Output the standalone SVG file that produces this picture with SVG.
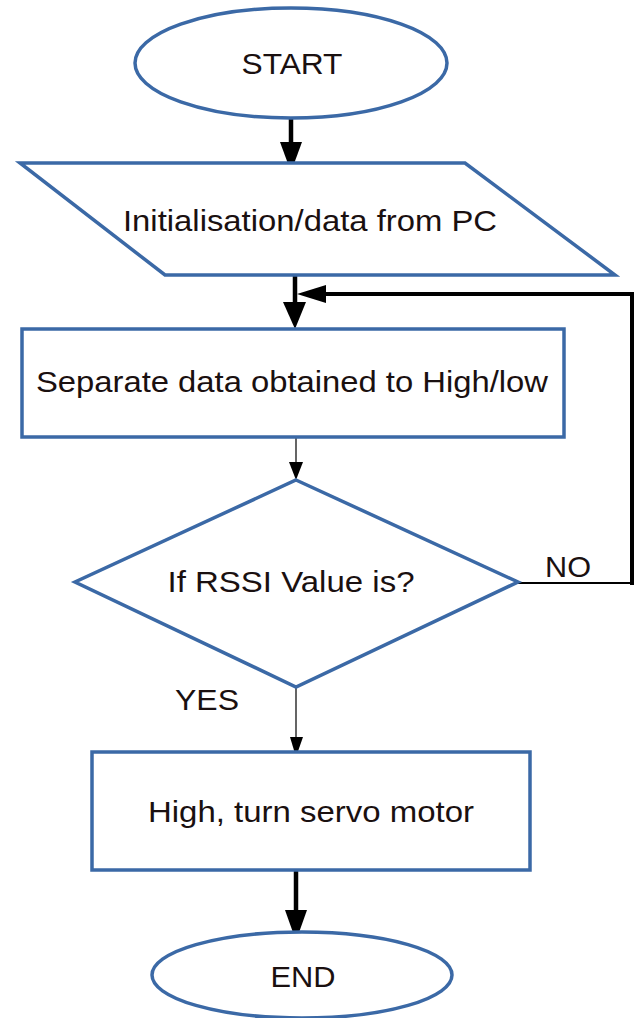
<svg xmlns="http://www.w3.org/2000/svg" width="640" height="1018" viewBox="0 0 640 1018">
<style>
.shape{fill:#fff;stroke:#3b69a6;stroke-width:3.5}
.t{font-family:"Liberation Sans",Arial,sans-serif;font-size:30px;fill:#1a1010;text-anchor:middle}
.l{font-family:"Liberation Sans",Arial,sans-serif;font-size:29px;fill:#1a1010}
.thick{stroke:#000;stroke-width:4.5;fill:none}
.thin{stroke:#555;stroke-width:1.8;fill:none}
.blk{stroke:#000;stroke-width:2;fill:none}
</style>
<g id="connectors">
  <line class="thick" x1="291" y1="118" x2="291" y2="145"/>
  <polygon points="280,142 302,142 291,172" fill="#000"/>
  <line class="thick" x1="295" y1="270" x2="295" y2="305"/>
  <polygon points="283,302 306,302 295,329" fill="#000"/>
  <line class="blk" x1="518" y1="583" x2="632" y2="583"/>
  <polyline class="thick" points="632,585 632,294 322,294" style="stroke-width:4"/>
  <polygon points="297,294 326,285 326,303" fill="#000"/>
  <line class="thin" x1="296" y1="437" x2="296" y2="464"/>
  <polygon points="289,462 303,462 296,480" fill="#000"/>
  <line class="thin" x1="296" y1="687" x2="296" y2="739"/>
  <polygon points="290,737 303,737 296,757" fill="#000"/>
  <line class="thick" x1="296" y1="871" x2="296" y2="912"/>
  <polygon points="285,910 307,910 296,941" fill="#000"/>
</g>
<g id="start">
  <ellipse class="shape" cx="291" cy="63" rx="156" ry="55"/>
  <text class="t" x="292" y="74" textLength="101" lengthAdjust="spacingAndGlyphs">START</text>
</g>
<g id="init">
  <polygon class="shape" points="20,163 465,163 615,275 165,275"/>
  <text class="t" x="310" y="231" textLength="374" lengthAdjust="spacingAndGlyphs">Initialisation/data from PC</text>
</g>
<g id="separate">
  <rect class="shape" x="22" y="329" width="542" height="108"/>
  <text class="t" x="292" y="392" textLength="512" lengthAdjust="spacingAndGlyphs">Separate data obtained to High/low</text>
</g>
<g id="decision">
  <polygon class="shape" points="296,480 518,582 296,687 75,582"/>
  <text class="t" x="291" y="592" textLength="247" lengthAdjust="spacingAndGlyphs">If RSSI Value is?</text>
</g>
<g id="labels">
  <text class="l" x="545" y="577" textLength="46" lengthAdjust="spacingAndGlyphs">NO</text>
  <text class="l" x="175" y="710" textLength="64" lengthAdjust="spacingAndGlyphs">YES</text>
</g>
<g id="servo">
  <rect class="shape" x="92" y="752" width="438" height="118"/>
  <text class="t" x="311" y="822" textLength="326" lengthAdjust="spacingAndGlyphs">High, turn servo motor</text>
</g>
<g id="end">
  <ellipse class="shape" cx="302" cy="975" rx="150" ry="43"/>
  <text class="t" x="303" y="987" textLength="65" lengthAdjust="spacingAndGlyphs">END</text>
</g>
</svg>
